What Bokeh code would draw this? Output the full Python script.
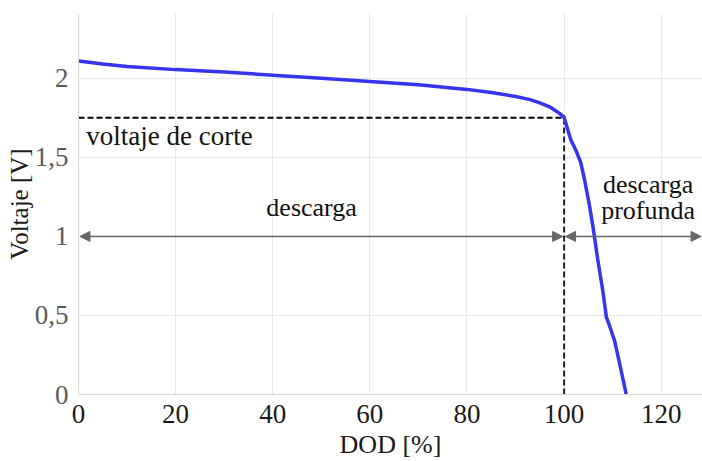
from bokeh.plotting import figure
from bokeh.models import FixedTicker, Arrow, NormalHead, Label
from bokeh.embed import file_html
from bokeh.resources import INLINE

dod = [0, 5, 10, 20, 30, 40, 50, 60, 70, 80, 85, 90, 93, 95, 97, 98, 99, 100,
       100.75, 101.4, 102.5, 103.4, 104.2, 105.2, 105.9, 106.9, 108.0, 108.7, 109.3,
       110.4, 111.4, 112.8]
voltage = [2.11, 2.09, 2.075, 2.055, 2.04, 2.02, 2.0, 1.98, 1.96, 1.93, 1.91, 1.885, 1.865,
           1.845, 1.82, 1.80, 1.78, 1.754,
           1.675, 1.61, 1.54, 1.47, 1.36, 1.20, 1.07, 0.86, 0.65, 0.49, 0.44,
           0.34, 0.20, 0.0]
cutoff_v = 1.75
cutoff_dod = 100
arrow_v = 1.0
x_ticks = [0, 20, 40, 60, 80, 100, 120]
y_ticks = [0, 0.5, 1, 1.5, 2]
y_tick_labels = {0: "0", 0.5: "0,5", 1: "1", 1.5: "1,5", 2: "2"}

FONT = "Liberation Serif"

p = figure(width=702, height=461, output_backend="svg", toolbar_location=None,
           x_range=(0, 128.5), y_range=(0, 2.41),
           min_border_left=78, min_border_right=0, min_border_top=13, min_border_bottom=63)
p.outline_line_color = None
p.background_fill_color = "white"

for ax in (p.xaxis[0], p.yaxis[0]):
    ax.axis_line_color = "#d8d8d8"
    ax.major_tick_line_color = None
    ax.minor_tick_line_color = None
    ax.major_label_text_font = FONT
    ax.major_label_text_font_size = "27px"
    ax.axis_label_text_font = FONT
    ax.axis_label_text_font_style = "normal"
    ax.axis_label_text_color = "#1a1a1a"

p.xaxis.axis_label_text_font_size = "26px"
p.yaxis.axis_label_text_font_size = "25px"
p.xaxis.major_label_text_color = "#1a1a1a"
p.yaxis.major_label_text_color = "#5a5a5a"
p.xaxis.ticker = FixedTicker(ticks=x_ticks)
p.yaxis.ticker = FixedTicker(ticks=y_ticks)
p.yaxis.major_label_overrides = {k: v for k, v in y_tick_labels.items()}
p.xaxis.axis_label = "DOD [%]"
p.yaxis.axis_label = "Voltaje [V]"
p.xaxis.major_label_standoff = 4
p.yaxis.major_label_standoff = 4
p.xaxis.axis_label_standoff = 4
p.yaxis.axis_label_standoff = -1

p.xgrid.grid_line_color = "#e8e8e8"
p.ygrid.grid_line_color = "#e8e8e8"

# cutoff lines
p.line([0, cutoff_dod], [cutoff_v, cutoff_v], line_color="black", line_width=2, line_dash="6 3")
p.line([cutoff_dod, cutoff_dod], [0, cutoff_v], line_color="#222222", line_width=2, line_dash="6 3")

# discharge curve
p.line(dod, voltage, line_color="#3535ee", line_width=3.5)

# arrows
gray = "#666666"
for x0, x1 in [(0, cutoff_dod), (cutoff_dod, 128.5)]:
    p.add_layout(Arrow(x_start=x0 + 0.3, y_start=arrow_v, x_end=x1 - 0.3, y_end=arrow_v,
                       line_color=gray, line_width=1.5,
                       start=NormalHead(size=10, fill_color=gray, line_color=gray),
                       end=NormalHead(size=10, fill_color=gray, line_color=gray)))

lbl = dict(text_font=FONT, text_font_size="26px", text_color="#111111")
p.add_layout(Label(x=1.6, y=1.635, text="voltaje de corte", text_baseline="middle",
                   text_font=FONT, text_font_size="27px", text_color="#111111"))
p.add_layout(Label(x=48, y=1.18, text="descarga", text_align="center", text_baseline="middle", **lbl))
p.add_layout(Label(x=117.3, y=1.33, text="descarga", text_align="center", text_baseline="middle", **lbl))
p.add_layout(Label(x=117.3, y=1.165, text="profunda", text_align="center", text_baseline="middle", **lbl))

open("out.html", "w").write(file_html(p, INLINE))
